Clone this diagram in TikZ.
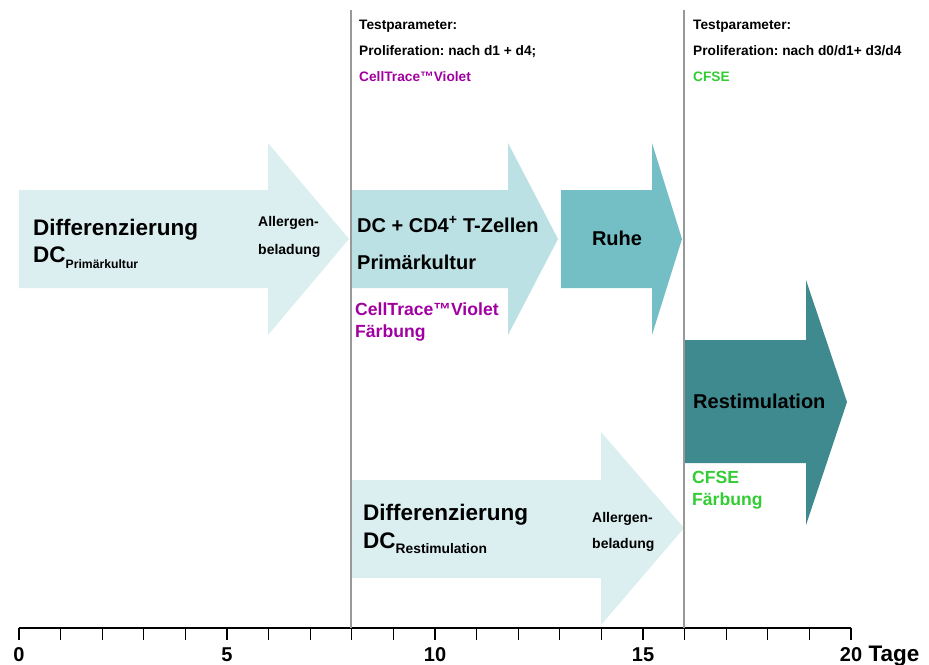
\documentclass[tikz,border=0pt]{standalone}
\usepackage{fontspec}
\setmainfont{Liberation Sans}
\usepackage{xcolor}
\usetikzlibrary{positioning,calc}
\frenchspacing

\definecolor{phaselight}{RGB}{219,238,240}
\definecolor{phasemid}{RGB}{188,225,228}
\definecolor{phaserest}{RGB}{115,191,197}
\definecolor{phasedark}{RGB}{62,138,143}
\definecolor{ctviolet}{RGB}{160,0,160}
\definecolor{cfsegreen}{RGB}{51,204,51}

\newcommand{\fs}[1]{\fontsize{#1}{#1}\selectfont\bfseries}

\begin{document}
\begin{tikzpicture}[x=1pt, y=-1pt,
    lbl/.style={anchor=base west, inner sep=0pt, font=\fs{20}},
    biglbl/.style={anchor=base west, inner sep=0pt, font=\fs{22.5}},
    smalllbl/.style={anchor=base west, inner sep=0pt, font=\fs{14}},
    toplbl/.style={anchor=base west, inner sep=0pt, font=\fs{13.7}},
    dyelbl/.style={anchor=base west, inner sep=0pt, font=\fs{17.6}},
    daylbl/.style={anchor=base, inner sep=0pt, font=\fs{20}},
    dayline/.style={draw=black!40, line width=2pt}]
  \useasboundingbox (0,0) rectangle (929,664);

  % phase arrows
  \fill[phaselight] (19,190) -- (268,190) -- (268,143) -- (349,239) -- (268,335) -- (268,288) -- (19,288) -- cycle;
  \fill[phasemid] (352,190) -- (508,190) -- (508,143) -- (558,239) -- (508,335) -- (508,288) -- (352,288) -- cycle;
  \fill[phaserest] (561,190) -- (652,190) -- (652,143) -- (682,239) -- (652,335) -- (652,288) -- (561,288) -- cycle;
  \fill[phasedark] (685,340) -- (806,340) -- (806,280) -- (847,402) -- (806,525) -- (806,463) -- (685,463) -- cycle;
  \fill[phaselight] (352,480) -- (601,480) -- (601,432) -- (684,528) -- (601,625) -- (601,578) -- (352,578) -- cycle;

  % time axis
  \coordinate (t0) at (19,628);
  \coordinate (t20) at (851,628);
  \draw[line width=1.6pt] (t0) -- (t20);
  \foreach \d in {0,...,20}
    \draw[line width=1.2pt] ($(t0)+(41.6*\d,0)$) -- ++(0,12);
  \foreach \d in {0,5,10,15,20}
    \node[daylbl] (day\d) at ($(t0)+(41.6*\d,33)$) {\d};
  \node[anchor=base west, inner sep=0pt, font=\fs{22.5}] (tage) at ($(day20.base east)+(6,0)$) {Tage};

  % test time points
  \coordinate (m8top) at (351,10);
  \coordinate (m8bot) at (351,628);
  \coordinate (m16top) at (684,10);
  \coordinate (m16bot) at (684,628);
  \draw[dayline] (m8top) -- (m8bot);
  \draw[dayline] (m16top) -- (m16bot);

  \node[toplbl] (tp1) at (359,29) {Testparameter:};
  \node[toplbl] (pro1) at (359,55) {Proliferation: nach d1 + d4;};
  \node[toplbl, text=ctviolet] (ctv1) at (359,81) {CellTrace™Violet};
  \node[toplbl] (tp2) at (693,29) {Testparameter:};
  \node[toplbl] (pro2) at (693,55) {Proliferation: nach d0/d1+ d3/d4};
  \node[toplbl, text=cfsegreen] (cfse1) at (693,81) {CFSE};

  % primary culture DC
  \node[biglbl] (diff1) at (33,235) {Differenzierung};
  \node[biglbl] (dc1) at (33,262) {DC\raisebox{-6pt}{\fs{12.2}Primärkultur}};
  \node[smalllbl] (all1) at (258,226) {Allergen-};
  \node[smalllbl] (bel1) at (258,254) {beladung};

  % co-culture
  \node[lbl] (cocult) at (357,232) {DC + CD4\textsuperscript{+} T-Zellen};
  \node[lbl] (prim) at (357,269) {Primärkultur};
  \node[dyelbl, text=ctviolet] (ctv2) at (355,315) {CellTrace™Violet};
  \node[dyelbl, text=ctviolet] (ctvf) at (355,337) {Färbung};

  % rest
  \node[anchor=base, inner sep=0pt, font=\fs{20}] (ruhe) at (617,245) {Ruhe};

  % restimulation DC
  \node[biglbl] (diff2) at (363,520) {Differenzierung};
  \node[biglbl] (dc2) at (363,548) {DC\raisebox{-5pt}{\fs{13.8}Restimulation}};
  \node[smalllbl] (all2) at (592,522) {Allergen-};
  \node[smalllbl] (bel2) at (592,548) {beladung};

  % restimulation
  \node[lbl] (restim) at (693,408) {Restimulation};
  \node[dyelbl, text=cfsegreen] (cfse2) at (692,483) {CFSE};
  \node[dyelbl, text=cfsegreen] (cfsef) at (692,505) {Färbung};
\end{tikzpicture}
\end{document}
